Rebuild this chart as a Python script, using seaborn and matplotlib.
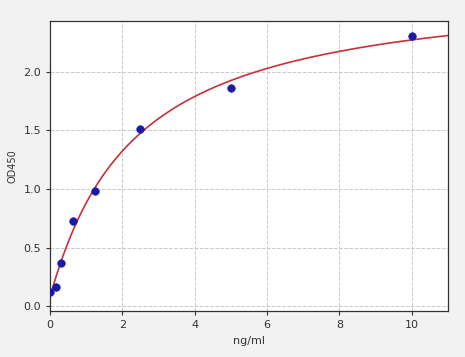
import numpy as np
import pandas as pd
import matplotlib
matplotlib.use("Agg")
import matplotlib.pyplot as plt
import seaborn as sns

conc = [0.0, 0.156, 0.3125, 0.625, 1.25, 2.5, 5.0, 10.0]
od = [0.12, 0.16, 0.37, 0.73, 0.98, 1.51, 1.86, 2.30]

x = np.array(conc)
y = np.array(od)

# 4PL fit: y = d + (a - d) / (1 + (x/c)^b)
best = None
for b in np.linspace(0.5, 2.0, 61):
    for c in np.linspace(0.5, 15, 146):
        g = 1.0 / (1.0 + (x / c) ** b)
        A = np.column_stack([g, 1 - g])
        coef, *_ = np.linalg.lstsq(A, y, rcond=None)
        r = np.sum((A @ coef - y) ** 2)
        if best is None or r < best[0]:
            best = (r, b, c, coef)
_, b, c, (a, d) = best
xs = np.linspace(0, 11, 300)
ys = d + (a - d) / (1 + (xs / c) ** b)

sns.set_style("whitegrid")
fig = plt.figure(figsize=(4.65, 3.57), dpi=100, facecolor="#f2f2f2")
ax = fig.add_axes([0.1075, 0.129, 0.856, 0.812])
ax.set_facecolor("white")
sns.lineplot(x=xs, y=ys, ax=ax, color="#c8303a", linewidth=1.2)
sns.scatterplot(x=conc, y=od, ax=ax, color="#1a1aa8", s=30, edgecolor="#1a1aa8", zorder=3)
ax.set_xlim(0, 11)
ax.set_ylim(-0.04, 2.43)
ax.set_xticks([0, 2, 4, 6, 8, 10])
ax.set_yticks([0.0, 0.5, 1.0, 1.5, 2.0])
ax.set_yticklabels(["0.0", "0.5", "1.0", "1.5", "2.0"])
ax.grid(True, linestyle="--", color="#c8c8c8", linewidth=0.7)
for s in ax.spines.values():
    s.set_visible(True)
    s.set_color("#333333")
    s.set_linewidth(0.9)
ax.tick_params(axis="both", labelsize=8, colors="#333333", length=3, bottom=True, left=True)
ax.set_xlabel("ng/ml", fontsize=8, color="#333333")
ax.set_ylabel("OD450", fontsize=7, color="#333333")
fig.savefig("out.png", dpi=100, facecolor=fig.get_facecolor())
